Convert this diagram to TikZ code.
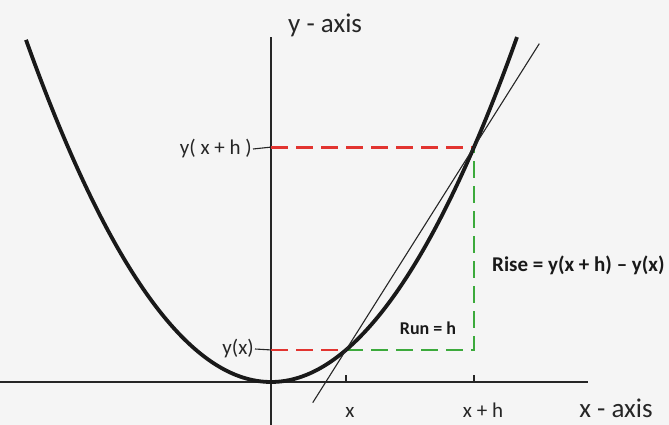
\documentclass[tikz,border=0pt]{standalone}
\usepackage{fontspec}
\setmainfont{Carlito}
\usetikzlibrary{calc}
\tikzset{
  axis/.style={line width=2.4pt, black!85},
  curve/.style={line width=3.8pt, black!90, line join=round},
  secant/.style={line width=1.1pt, black!85},
  reddash/.style={line width=2.8pt, color={rgb,255:red,226;green,52;blue,48}, dash pattern=on 17pt off 8pt},
  greendash/.style={line width=2.8pt, color={rgb,255:red,60;green,170;blue,60}, dash pattern=on 17pt off 8pt},
  lbl/.style={font=\fontsize{21}{23}\selectfont, inner sep=1pt, black!85},
  axlbl/.style={font=\fontsize{27}{29}\selectfont, inner sep=1pt, black!85},
  boldlbl/.style={font=\fontsize{21}{23}\selectfont\bfseries, inner sep=1pt, black!90},
  tick/.style={line width=1.1pt, black!85}
}
\begin{document}
\begin{tikzpicture}[x=1pt, y=-1pt]
\useasboundingbox (0,0) rectangle (669,425);
\fill[white!96!black] (0,0) rectangle (669,425);
% axes
\coordinate (O) at (271,382);
\coordinate (Ytop) at (271,37);
\coordinate (Ybot) at (271,425);
\coordinate (Xl) at (0,382);
\coordinate (Xr) at (588,382);
\draw[axis] (Ybot) -- (Ytop);
\draw[axis] (Xl) -- (Xr);
% points on curve
\coordinate (P) at (346,{382-0.57*7.5*7.5});
\coordinate (Q) at (474,{382-0.57*20.3*20.3});
\coordinate (Py) at (271,{382-0.57*7.5*7.5});
\coordinate (Qy) at (271,{382-0.57*20.3*20.3});
\coordinate (C) at (474,{382-0.57*7.5*7.5});
\coordinate (Px) at (346,382);
\coordinate (Qx) at (474,382);
\coordinate (Pxt) at (346,375);
\coordinate (Qxt) at (474,375);
% dashed lines
\draw[reddash] (Py) -- (P);
\draw[reddash] (Qy) -- (Q);
\draw[greendash] (P) -- (C) -- (Q);
% parabola
\draw[curve] plot[domain=-24.5:24.6, samples=120, smooth] ({271+10*\x}, {382-0.57*\x*\x});
% secant
\coordinate (S1) at ($(P)!-0.26!(Q)$);
\coordinate (S2) at ($(P)!1.51!(Q)$);
\draw[secant] (S1) -- (S2);
% ticks on x-axis
\draw[tick] (Px) -- (Pxt);
\draw[tick] (Qx) -- (Qxt);
% labels
\node[axlbl, anchor=west] (ya) at (287,25) {y - axis};
\node[axlbl, anchor=base] (xa) at (616,417) {x - axis};
\node[lbl, anchor=base] (lx) at (350,417) {x};
\node[lbl, anchor=base] (lxh) at (483,417) {x + h};
\node[lbl, anchor=east] (lyxh) at (253,149) {y( x + h )};
\node[lbl, anchor=east] (lyx) at (255,349) {y(x)};
\draw[tick] (lyxh.east) -- (Qy);
\draw[tick] (lyx.east) -- (Py);
\node[boldlbl, font=\fontsize{18}{20}\selectfont\bfseries] (run) at (428,328) {Run = h};
\node[boldlbl, anchor=west] (rise) at (491,265) {Rise = y(x + h) – y(x)};
\end{tikzpicture}
\end{document}
